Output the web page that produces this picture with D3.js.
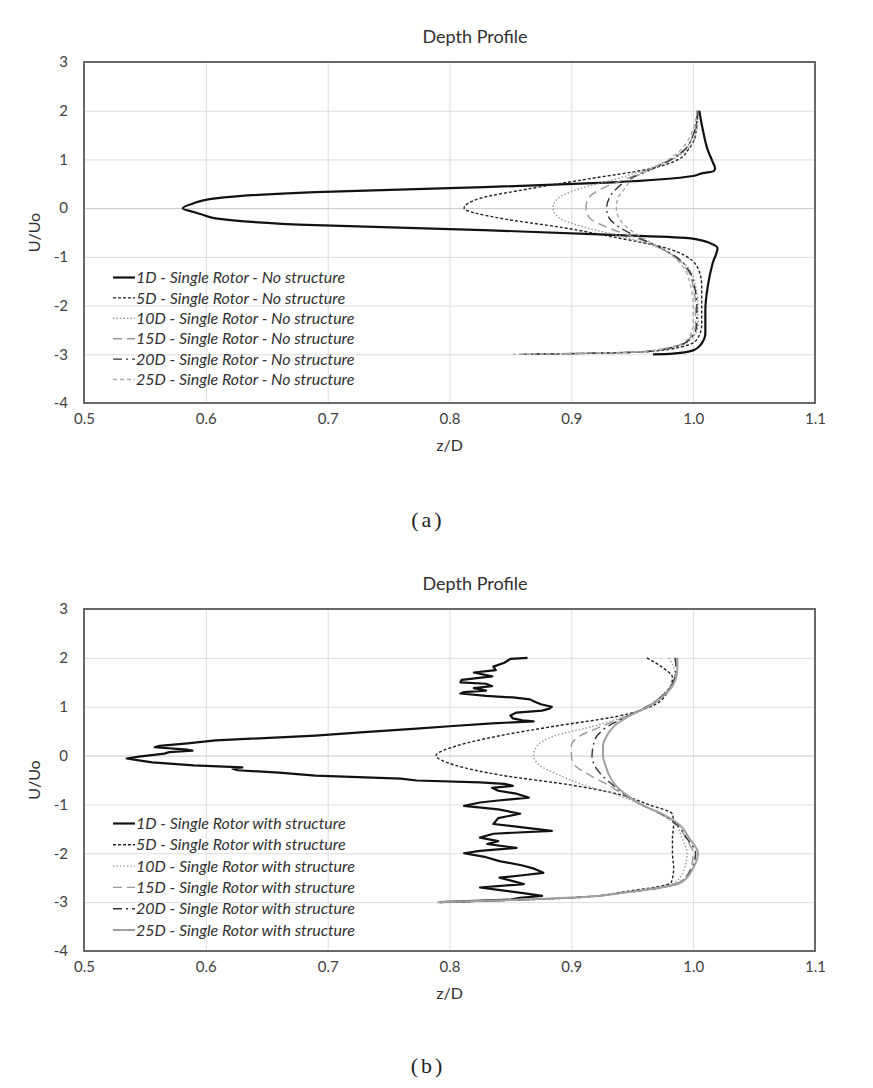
<!DOCTYPE html>
<html>
<head>
<meta charset="utf-8">
<script src="https://cdn.jsdelivr.net/npm/d3@7"></script>
<style>
  html, body { margin: 0; padding: 0; background: #fff; }
  svg { display: block; }
</style>
</head>
<body>
<script>
// ---------------- DATA ----------------
const xTicks = [0.5, 0.6, 0.7, 0.8, 0.9, 1.0, 1.1];
const yTicks = [3, 2, 1, 0, -1, -2, -3, -4];
const seriesNames = ["1D", "5D", "10D", "15D", "20D", "25D"];
const titleText = "Depth Profile";
const xLabel = "z/D";
const yLabel = "U/Uo";
const legendA = seriesNames.map(s => s + " - Single Rotor - No structure");
const legendB = seriesNames.map(s => s + " - Single Rotor with structure");

// Chart (a) – 1D profile
const a1D_U = [2.0, 1.6, 1.19, 0.95, 0.82, 0.76, 0.72, 0.66, 0.53, 0.43, 0.33, 0.2, 0.16, 0.1, 0.0, -0.08, -0.14, -0.21, -0.35, -0.45, -0.55, -0.62, -0.72, -0.82, -1.13, -1.6, -2.1, -2.57, -2.81, -2.92, -2.99, -3.0];
const a1D_z = [1.005, 1.008, 1.012, 1.016, 1.018, 1.017, 1.008, 1.0, 0.934, 0.828, 0.69, 0.608, 0.598, 0.59, 0.581, 0.59, 0.598, 0.608, 0.69, 0.828, 0.934, 0.998, 1.014, 1.02, 1.016, 1.012, 1.01, 1.01, 1.006, 1.0, 0.981, 0.967];

// Chart (a) – other profiles on a shared U grid
const aU   = [2, 1.8, 1.5, 1.2, 1.0, 0.8, 0.6, 0.4, 0.2, 0, -0.2, -0.4, -0.6, -0.8, -1.0, -1.3, -1.6, -2.0, -2.4, -2.7, -2.85, -2.95, -3.0];
const a5D  = [1.003, 1.003, 1.002, 0.996, 0.988, 0.963, 0.914, 0.866, 0.825, 0.812, 0.84, 0.893, 0.936, 0.975, 0.995, 1.005, 1.007, 1.007, 1.007, 1.003, 0.99, 0.96, 0.87];
const a10D = [1.004, 1.004, 1.002, 0.995, 0.983, 0.962, 0.937, 0.907, 0.889, 0.885, 0.89, 0.912, 0.945, 0.97, 0.986, 0.998, 1.002, 1.004, 1.004, 0.998, 0.985, 0.96, 0.86];
const a15D = [1.004, 1.003, 1.0, 0.993, 0.982, 0.965, 0.945, 0.925, 0.914, 0.912, 0.915, 0.93, 0.952, 0.972, 0.985, 0.996, 1.0, 1.002, 1.002, 0.996, 0.983, 0.955, 0.855];
const a20D = [1.004, 1.003, 1.0, 0.993, 0.982, 0.966, 0.948, 0.937, 0.931, 0.929, 0.931, 0.94, 0.955, 0.972, 0.986, 0.997, 1.001, 1.003, 1.003, 0.997, 0.984, 0.958, 0.86];
const a25D = [1.003, 1.002, 0.998, 0.99, 0.98, 0.965, 0.95, 0.944, 0.938, 0.937, 0.939, 0.946, 0.958, 0.972, 0.984, 0.994, 0.998, 1.0, 1.0, 0.995, 0.982, 0.955, 0.852];

// Chart (b) – 1D profile (noisy)
const b1D_U = [2.0, 1.98, 1.9, 1.82, 1.75, 1.7, 1.62, 1.55, 1.5, 1.47, 1.42, 1.38, 1.33, 1.3, 1.27, 1.22, 1.19, 1.15, 1.1, 1.05, 1.0, 0.96, 0.92, 0.88, 0.82, 0.76, 0.72, 0.7, 0.66, 0.6, 0.55, 0.48, 0.41, 0.31, 0.25, 0.2, 0.17, 0.12, 0.1, 0.07, 0.04, -0.02, -0.06, -0.1, -0.14, -0.2, -0.24, -0.27, -0.3, -0.35, -0.41, -0.47, -0.51, -0.55, -0.58, -0.62, -0.66, -0.72, -0.78, -0.86, -0.92, -0.96, -1.03, -1.1, -1.19, -1.28, -1.4, -1.47, -1.54, -1.6, -1.68, -1.75, -1.81, -1.89, -1.95, -2.0, -2.08, -2.16, -2.25, -2.32, -2.4, -2.45, -2.5, -2.57, -2.63, -2.7, -2.75, -2.82, -2.87, -2.91, -2.95, -3.0];
const b1D_z = [0.864, 0.85, 0.845, 0.836, 0.838, 0.82, 0.835, 0.81, 0.809, 0.83, 0.835, 0.82, 0.83, 0.812, 0.809, 0.83, 0.852, 0.866, 0.87, 0.875, 0.884, 0.882, 0.876, 0.855, 0.85, 0.852, 0.86, 0.869, 0.835, 0.8, 0.773, 0.73, 0.69, 0.608, 0.585, 0.562, 0.558, 0.585, 0.589, 0.57, 0.566, 0.545, 0.535, 0.545, 0.556, 0.59, 0.63, 0.622, 0.626, 0.66, 0.69, 0.76, 0.773, 0.825, 0.845, 0.852, 0.835, 0.84, 0.855, 0.865, 0.84, 0.825, 0.812, 0.84, 0.858, 0.84, 0.836, 0.86, 0.884, 0.836, 0.825, 0.84, 0.831, 0.855, 0.825, 0.812, 0.83, 0.841, 0.86, 0.87, 0.877, 0.86, 0.841, 0.852, 0.861, 0.825, 0.84, 0.862, 0.876, 0.858, 0.85, 0.792];

// Chart (b) – other profiles on a shared U grid
const bU   = [2, 1.8, 1.6, 1.3, 1.0, 0.8, 0.6, 0.4, 0.2, 0, -0.2, -0.4, -0.6, -0.8, -1.0, -1.2, -1.4, -1.7, -2.0, -2.3, -2.6, -2.8, -2.9, -3.0];
const b5D  = [0.962, 0.975, 0.983, 0.979, 0.965, 0.937, 0.886, 0.84, 0.806, 0.789, 0.805, 0.842, 0.899, 0.94, 0.963, 0.983, 0.984, 0.983, 0.983, 0.984, 0.982, 0.94, 0.91, 0.80];
const b10D = [0.98, 0.984, 0.985, 0.977, 0.962, 0.944, 0.918, 0.886, 0.872, 0.869, 0.874, 0.89, 0.91, 0.937, 0.957, 0.973, 0.985, 0.991, 0.995, 0.993, 0.985, 0.944, 0.905, 0.80];
const b15D = [0.986, 0.986, 0.985, 0.978, 0.962, 0.945, 0.925, 0.907, 0.9, 0.9, 0.903, 0.915, 0.93, 0.943, 0.957, 0.974, 0.986, 0.994, 1.0, 0.998, 0.988, 0.945, 0.905, 0.80];
const b20D = [0.985, 0.986, 0.985, 0.978, 0.962, 0.946, 0.93, 0.921, 0.918, 0.917, 0.919, 0.925, 0.934, 0.944, 0.957, 0.974, 0.986, 0.995, 1.002, 0.999, 0.989, 0.946, 0.905, 0.80];
const b25D = [0.987, 0.987, 0.986, 0.979, 0.963, 0.947, 0.935, 0.929, 0.926, 0.926, 0.928, 0.931, 0.936, 0.945, 0.957, 0.975, 0.988, 0.997, 1.004, 1.0, 0.99, 0.945, 0.907, 0.79];

// ---------------- STYLES ----------------
const stylesA = [
  { stroke: "#111", width: 2.2, dash: null },
  { stroke: "#222", width: 1.4, dash: "3,2" },
  { stroke: "#999", width: 1.4, dash: "1.5,2" },
  { stroke: "#999", width: 1.4, dash: "9,5" },
  { stroke: "#333", width: 1.4, dash: "9,4,2,4" },
  { stroke: "#aaa", width: 1.4, dash: "4,3" }
];
const stylesB = stylesA.map((s, i) => i === 5 ? { stroke: "#a0a0a0", width: 2, dash: null } : s);

const FONT = "Lato, 'Open Sans', sans-serif";

const svg = d3.select("body").append("svg")
  .attr("width", 873).attr("height", 1088)
  .style("background", "#fff");

function drawChart(cfg) {
  const { top, bottom, left, right, series, legend, styles, legendTop, legendStep, caption, captionY } = cfg;
  const g = svg.append("g");
  const x = d3.scaleLinear().domain([0.5, 1.1]).range([left, right]);
  const y = d3.scaleLinear().domain([-4, 3]).range([bottom, top]);

  // grid
  g.append("g").attr("transform", `translate(0,${bottom})`)
    .call(d3.axisBottom(x).tickValues(xTicks).tickSize(-(bottom - top)).tickFormat(""))
    .call(a => a.select(".domain").remove())
    .call(a => a.selectAll("line").attr("stroke", "#dcdcdc").attr("stroke-width", 1));
  g.append("g").attr("transform", `translate(${left},0)`)
    .call(d3.axisLeft(y).tickValues(yTicks).tickSize(-(right - left)).tickFormat(""))
    .call(a => a.select(".domain").remove())
    .call(a => a.selectAll("line").attr("stroke", d => d === 0 ? "#c8c8c8" : "#dcdcdc").attr("stroke-width", 1));

  // tick labels
  g.append("g").attr("transform", `translate(0,${bottom})`)
    .call(d3.axisBottom(x).tickValues(xTicks).tickSize(0).tickPadding(10).tickFormat(d3.format(".1f")))
    .call(a => a.select(".domain").remove())
    .call(a => a.selectAll("text").attr("font-family", FONT).attr("font-size", 15).attr("fill", "#404040"));
  g.append("g").attr("transform", `translate(${left},0)`)
    .call(d3.axisLeft(y).tickValues(yTicks).tickSize(0).tickPadding(16).tickFormat(d => String(d)))
    .call(a => a.select(".domain").remove())
    .call(a => a.selectAll("text").attr("font-family", FONT).attr("font-size", 15).attr("fill", "#404040"));

  // lines
  series.forEach((s, i) => {
    const pts = s.U.map((u, k) => [s.z[k], u]);
    const line = d3.line().x(d => x(d[0])).y(d => y(d[1]))
      .curve(s.noisy ? d3.curveLinear : d3.curveMonotoneY);
    const st = styles[i];
    g.append("path").datum(pts)
      .attr("d", line)
      .attr("fill", "none")
      .attr("stroke", st.stroke)
      .attr("stroke-width", st.width)
      .attr("stroke-linejoin", "round")
      .attr("stroke-dasharray", st.dash);
  });

  // frame
  g.append("rect").attr("x", left).attr("y", top).attr("width", right - left).attr("height", bottom - top)
    .attr("fill", "none").attr("stroke", "#5a5a5a").attr("stroke-width", 1.8);

  // legend
  const lg = g.append("g");
  legend.forEach((t, i) => {
    const yy = legendTop + i * legendStep;
    const st = styles[i];
    lg.append("line").attr("x1", 113).attr("x2", 135).attr("y1", yy).attr("y2", yy)
      .attr("stroke", st.stroke).attr("stroke-width", st.width)
      .attr("stroke-dasharray", st.dash);
    lg.append("text").attr("x", 136).attr("y", yy).attr("dy", "0.35em")
      .attr("font-family", FONT).attr("font-style", "italic").attr("font-size", 16)
      .attr("fill", "#303030").text(t);
  });

  // titles
  g.append("text").attr("x", 475).attr("y", top - 19).attr("text-anchor", "middle")
    .attr("font-family", FONT).attr("font-size", 18).attr("fill", "#303030").text(titleText);
  g.append("text").attr("x", (left + right) / 2).attr("y", bottom + 48).attr("text-anchor", "middle")
    .attr("font-family", FONT).attr("font-size", 16).attr("fill", "#303030").text(xLabel);
  g.append("text").attr("transform", `translate(40,${(top + bottom) / 2}) rotate(-90)`)
    .attr("text-anchor", "middle")
    .attr("font-family", FONT).attr("font-size", 16).attr("fill", "#303030").text(yLabel);

  g.append("text").attr("x", 428).attr("y", captionY).attr("text-anchor", "middle")
    .attr("font-family", "'Liberation Serif', serif").attr("font-size", 22).attr("letter-spacing", 3)
    .attr("fill", "#222").text(caption);
}

drawChart({
  top: 62, bottom: 403, left: 84, right: 815,
  series: [
    { U: a1D_U, z: a1D_z },
    { U: aU, z: a5D }, { U: aU, z: a10D }, { U: aU, z: a15D }, { U: aU, z: a20D }, { U: aU, z: a25D }
  ],
  legend: legendA, styles: stylesA, legendTop: 277.5, legendStep: 20.4,
  caption: "(a)", captionY: 527
});

drawChart({
  top: 609, bottom: 951, left: 84, right: 815,
  series: [
    { U: b1D_U, z: b1D_z, noisy: true },
    { U: bU, z: b5D }, { U: bU, z: b10D }, { U: bU, z: b15D }, { U: bU, z: b20D }, { U: bU, z: b25D }
  ],
  legend: legendB, styles: stylesB, legendTop: 823.5, legendStep: 21.3,
  caption: "(b)", captionY: 1073
});
</script>
</body>
</html>
